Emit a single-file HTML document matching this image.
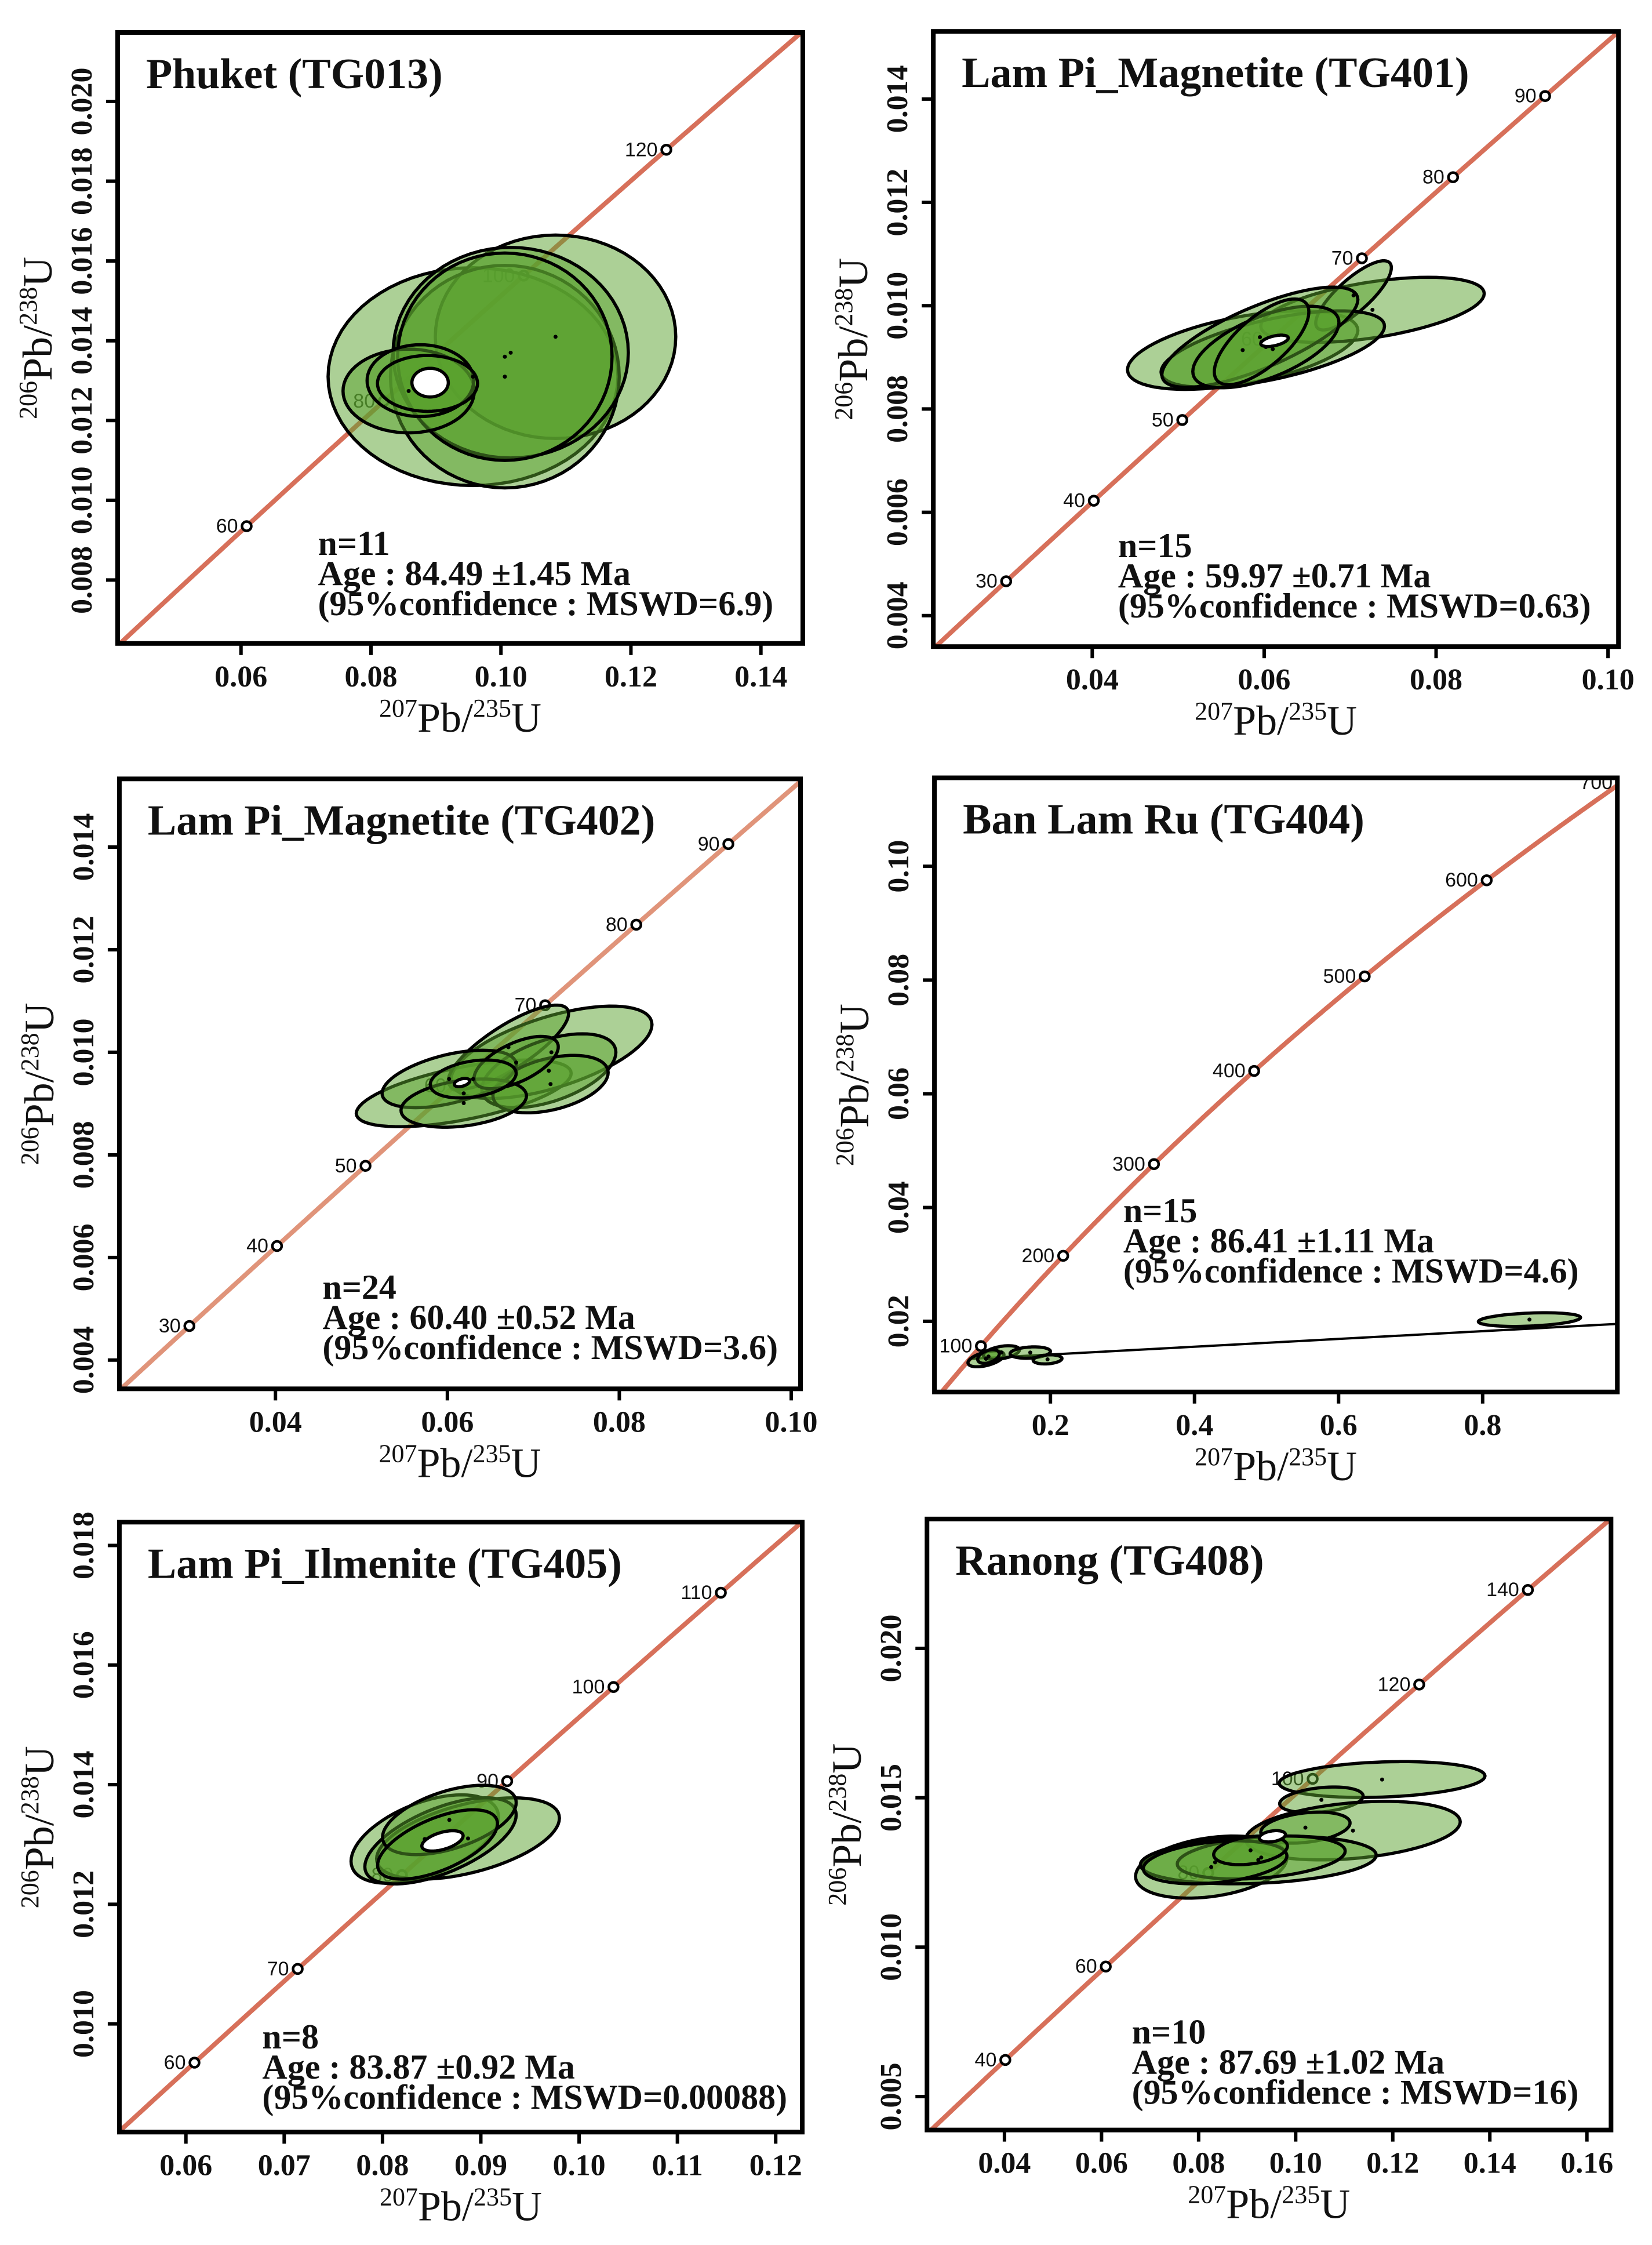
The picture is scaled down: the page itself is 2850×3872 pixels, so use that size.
<!DOCTYPE html>
<html><head><meta charset="utf-8">
<style>
html,body{margin:0;padding:0;background:#fff;overflow:hidden;width:2850px;height:3872px;}
svg{display:block;}
.tick{font-family:"Liberation Serif",serif;font-weight:bold;font-size:52px;fill:#111;}
.atitle{font-family:"Liberation Serif",serif;font-size:72px;fill:#111;}
.ptitle{font-family:"Liberation Serif",serif;font-weight:bold;font-size:74px;fill:#111;}
.stats{font-family:"Liberation Serif",serif;font-weight:bold;font-size:60px;fill:#111;}
.agelab{font-family:"Liberation Sans",sans-serif;font-size:34px;fill:#111;}
</style></head>
<body>
<svg id="fig" width="2850" height="3872" viewBox="0 0 2850 3872" xmlns="http://www.w3.org/2000/svg">
<rect width="2850" height="3872" fill="#fff"/>
</svg>
<script>
// ---------- Panel 1: Phuket (TG013) ----------
const p1EllX = [0.0957,0.1084,0.1006,0.1015,0.1006,0.0858,0.0876,0.0887];
const p1EllY = [0.0131,0.0141,0.0131,0.0137,0.0136,0.01274,0.0130,0.01293];
const p1EllAx = [0.0223,0.0185,0.0176,0.0181,0.0165,0.0101,0.0082,0.0077];
const p1EllBy = [0.00273,0.00255,0.00279,0.00264,0.0026,0.00105,0.0009,0.0007];
const p1EllRho = [0,0,0,0,0,0,0,0];
const p1Mean = [0.0891,0.01295,0.0028,0.00036,0];
const p1Ages = [60,80,100,120];
const p1XTicks = [0.06,0.08,0.10,0.12,0.14];
const p1YTicks = [0.008,0.010,0.012,0.014,0.016,0.018,0.020];
const p1Stats = ["n=11","Age : 84.49 ±1.45 Ma","(95%confidence : MSWD=6.9)"];

// ---------- Panel 2: Lam Pi_Magnetite (TG401) ----------
const p2EllX = [0.0575,0.0726,0.0704,0.0610,0.0595,0.0602,0.0597];
const p2EllY = [0.00914,0.00992,0.0102,0.00916,0.00939,0.0092,0.00930];
const p2EllAx = [0.0134,0.0130,0.0044,0.0130,0.0114,0.0085,0.0055];
const p2EllBy = [0.00076,0.00063,0.00067,0.00074,0.00097,0.00079,0.00083];
const p2EllRho = [0.5,0.5,0.8,0.6,0.75,0.6,0.7];
const p2Mean = [0.0612,0.00932,0.0016,0.00011,0.5];
const p2Ages = [30,40,50,60,70,80,90];
const p2XTicks = [0.04,0.06,0.08,0.10];
const p2YTicks = [0.004,0.006,0.008,0.010,0.012,0.014];
const p2Stats = ["n=15","Age : 59.97 ±0.71 Ma","(95%confidence : MSWD=0.63)"];

// ---------- Panel 3: Lam Pi_Magnetite (TG402) ----------
const p3EllX = [0.0619,0.0721,0.0671,0.0718,0.0720,0.0602,0.0619,0.0680,0.0630];
const p3EllY = [0.0092,0.0100,0.0101,0.00964,0.00938,0.00948,0.00901,0.0098,0.00948];
const p3EllAx = [0.0125,0.0117,0.0070,0.0078,0.0067,0.0078,0.0073,0.0049,0.0050];
const p3EllBy = [0.00065,0.0009,0.00082,0.00072,0.00056,0.00056,0.00047,0.00051,0.00037];
const p3EllRho = [0.6,0.6,0.8,0.5,0.4,0.5,0.3,0.6,0.3];
const p3Mean = [0.0617,0.00941,0.0009,0.00008,0.4];
const p3Ages = [30,40,50,60,70,80,90];
const p3XTicks = [0.04,0.06,0.08,0.10];
const p3YTicks = [0.004,0.006,0.008,0.010,0.012,0.014];
const p3Stats = ["n=24","Age : 60.40 ±0.52 Ma","(95%confidence : MSWD=3.6)"];

// ---------- Panel 4: Ban Lam Ru (TG404) ----------
const p4EllX = [0.865,0.1105,0.132,0.172,0.196,0.114];
const p4EllY = [0.0203,0.0134,0.0145,0.0145,0.0133,0.0138];
const p4EllAx = [0.0709,0.025,0.025,0.028,0.020,0.015];
const p4EllBy = [0.0012,0.0014,0.0012,0.0010,0.0008,0.0012];
const p4EllRho = [0.3,0.5,0.4,0.2,0.2,0.4];
const p4Ages = [100,200,300,400,500,600,700];
const p4XTicks = [0.2,0.4,0.6,0.8];
const p4YTicks = [0.02,0.04,0.06,0.08,0.10];
const p4Discordia = [0.01279,0.00684];
const p4Stats = ["n=15","Age : 86.41 ±1.11 Ma","(95%confidence : MSWD=4.6)"];

// ---------- Panel 5: Lam Pi_Ilmenite (TG405) ----------
const p5EllX = [0.0843,0.0887,0.0859,0.0868,0.0856];
const p5EllY = [0.01309,0.0131,0.01306,0.01341,0.0130];
const p5EllAx = [0.0075,0.0093,0.0077,0.0068,0.0061];
const p5EllBy = [0.00074,0.00068,0.00072,0.00058,0.00058];
const p5EllRho = [0.5,0.5,0.6,0.5,0.6];
const p5Mean = [0.0861,0.01306,0.0021,0.00017,0.5];
const p5Ages = [60,70,80,90,100,110];
const p5XTicks = [0.06,0.07,0.08,0.09,0.10,0.11,0.12];
const p5YTicks = [0.010,0.012,0.014,0.016,0.018];
const p5Stats = ["n=8","Age : 83.87 ±0.92 Ma","(95%confidence : MSWD=0.00088)"];

// ---------- Panel 6: Ranong (TG408) ----------
const p6EllX = [0.1178,0.1053,0.1118,0.1020,0.0826,0.0923,0.0929,0.0834,0.0907];
const p6EllY = [0.01561,0.01493,0.0139,0.0140,0.01268,0.01292,0.0130,0.01284,0.01324];
const p6EllAx = [0.0212,0.0086,0.0221,0.0092,0.0156,0.0243,0.0173,0.0148,0.0076];
const p6EllBy = [0.0006,0.00043,0.00098,0.00052,0.00104,0.0008,0.00072,0.00072,0.00048];
const p6EllRho = [0.2,0.3,0.3,0.3,0.3,0.2,0.3,0.3,0.3];
const p6Mean = [0.0952,0.01371,0.0027,0.00019,0.3];
const p6Ages = [40,60,80,100,120,140];
const p6XTicks = [0.04,0.06,0.08,0.10,0.12,0.14,0.16];
const p6YTicks = [0.005,0.010,0.015,0.020];
const p6Stats = ["n=10","Age : 87.69 ±1.02 Ma","(95%confidence : MSWD=16)"];

const NS = "http://www.w3.org/2000/svg";
const svg = document.getElementById('fig');
const L235 = 9.8485e-10*1e6, L238 = 1.55125e-10*1e6;
function cx207(t){return Math.exp(L235*t)-1;}
function cy206(t){return Math.exp(L238*t)-1;}
function mk(tag, attrs, parent){
  const e = document.createElementNS(NS, tag);
  for (const k in attrs) e.setAttribute(k, attrs[k]);
  (parent||svg).appendChild(e);
  return e;
}

const panels = [
 {id:1,title:"Phuket (TG013)",o:[0,0],box:[205,62,1399,1229],xd:[0.04102,0.14645],yd:[0.00641,0.02173],
  ex:p1EllX,ey:p1EllY,ea:p1EllAx,eb:p1EllBy,er:p1EllRho,mean:p1Mean,ages:p1Ages,xt:p1XTicks,yt:p1YTicks,xf:2,yf:3,
  stats:p1Stats,sx:554,sy:1060,cc:"#d7705a"},
 {id:2,title:"Lam Pi_Magnetite (TG401)",o:[1425,0],box:[1612,60,2806,1235],xd:[0.02151,0.10122],yd:[0.0034,0.01531],
  ex:p2EllX,ey:p2EllY,ea:p2EllAx,eb:p2EllBy,er:p2EllRho,mean:p2Mean,ages:p2Ages,xt:p2XTicks,yt:p2YTicks,xf:2,yf:3,
  stats:p2Stats,sx:1934,sy:1064,cc:"#d7705a"},
 {id:3,title:"Lam Pi_Magnetite (TG402)",o:[0,1300],box:[208,1348,1395,2513],xd:[0.02184,0.10108],yd:[0.00344,0.01533],
  ex:p3EllX,ey:p3EllY,ea:p3EllAx,eb:p3EllBy,er:p3EllRho,mean:p3Mean,ages:p3Ages,xt:p3XTicks,yt:p3YTicks,xf:2,yf:3,
  stats:p3Stats,sx:562,sy:2341,cc:"#e0947a"},
 {id:4,title:"Ban Lam Ru (TG404)",o:[1425,1300],box:[1614,1346,2804,2519],xd:[0.039,0.987],yd:[0.00757,0.11556],
  ex:p4EllX,ey:p4EllY,ea:p4EllAx,eb:p4EllBy,er:p4EllRho,mean:null,ages:p4Ages,xt:p4XTicks,yt:p4YTicks,xf:1,yf:2,
  stats:p4Stats,sx:1943,sy:2195,cc:"#d7705a",disc:p4Discordia},
 {id:5,title:"Lam Pi_Ilmenite (TG405)",o:[0,2572],box:[208,2631,1398,3796],xd:[0.05323,0.1227],yd:[0.00819,0.01839],
  ex:p5EllX,ey:p5EllY,ea:p5EllAx,eb:p5EllBy,er:p5EllRho,mean:p5Mean,ages:p5Ages,xt:p5XTicks,yt:p5YTicks,xf:2,yf:3,
  stats:p5Stats,sx:457,sy:3636,cc:"#d7705a"},
 {id:6,title:"Ranong (TG408)",o:[1425,2572],box:[1601,2625,2793,3792],xd:[0.02404,0.16497],yd:[0.00388,0.02433],
  ex:p6EllX,ey:p6EllY,ea:p6EllAx,eb:p6EllBy,er:p6EllRho,mean:p6Mean,ages:p6Ages,xt:p6XTicks,yt:p6YTicks,xf:2,yf:3,
  stats:p6Stats,sx:1958,sy:3627,cc:"#d7705a"}
];

const KX = 0.99, KY = 0.903;

function ellPath(X,Y,cx,cy,ax,by,rho){
  const s = Math.sqrt(1-rho*rho);
  let d = "";
  for (let i=0;i<=72;i++){
    const t = i/72*2*Math.PI;
    const x = cx + ax*Math.cos(t);
    const y = cy + by*(rho*Math.cos(t) + s*Math.sin(t));
    d += (i?"L":"M") + X(x).toFixed(1) + "," + Y(y).toFixed(1);
  }
  return d + "Z";
}

panels.forEach(p=>{
  const tx_ = v => p.o[0] + (v-p.o[0])*KX;
  const ty_ = v => p.o[1] + (v-p.o[1])*KY;
  const x0 = tx_(p.box[0]), y0 = ty_(p.box[1]), x1 = tx_(p.box[2]), y1 = ty_(p.box[3]);
  const sx = tx_(p.sx), sy = ty_(p.sy);
  const X = v => x0 + (v-p.xd[0])/(p.xd[1]-p.xd[0])*(x1-x0);
  const Y = v => y1 - (v-p.yd[0])/(p.yd[1]-p.yd[0])*(y1-y0);
  const g = mk('g',{});
  
  
  const cp = mk('clipPath',{id:'clip'+p.id},g);
  mk('rect',{x:x0,y:y0,width:x1-x0,height:y1-y0},cp);
  const plot = mk('g',{'clip-path':'url(#clip'+p.id+')'},g);

  let d="";
  for (let t=0;t<=1200;t+=2){
    d += (t?"L":"M")+X(cx207(t)).toFixed(1)+","+Y(cy206(t)).toFixed(1);
  }
  const cc = mk('path',{d:d,fill:'none',stroke:p.cc,'stroke-width':8},plot);
  
  

  p.ages.forEach(a=>{
    const mx = X(cx207(a)), my = Y(cy206(a));
    const c = mk('circle',{cx:mx,cy:my,r:8,fill:'#fff',stroke:'#000','stroke-width':4.5},plot);
    
    
    const tx = mk('text',{x:mx-15,y:my+11,'text-anchor':'end',class:'agelab'},plot);
    tx.textContent = a;
    
    
  });

  if (p.disc){
    const ln = mk('line',{x1:X(0.09),y1:Y(p.disc[0]+p.disc[1]*0.09),x2:X(p.xd[1]),y2:Y(p.disc[0]+p.disc[1]*p.xd[1]),stroke:'#000','stroke-width':4},plot);
    
    
  }

  p.ex.forEach((v,i)=>{
    const e = mk('path',{d:ellPath(X,Y,v,p.ey[i],p.ea[i],p.eb[i],p.er[i]),fill:'#5aa22e','fill-opacity':0.5,stroke:'#000','stroke-width':5.5},plot);
    
    
  });
  p.ex.forEach((v,i)=>{
    const dot = mk('circle',{cx:X(v),cy:Y(p.ey[i]),r:3.5,fill:'#000'},plot);
    
    
  });
  if (p.mean){
    const m = p.mean;
    const me = mk('path',{d:ellPath(X,Y,m[0],m[1],m[2],m[3],m[4]),fill:'#fff',stroke:'#000','stroke-width':5.5},plot);
    
    
  }

  const fr = mk('rect',{x:x0,y:y0,width:x1-x0,height:y1-y0,fill:'none',stroke:'#000','stroke-width':8},g);
  
  

  p.xt.forEach(v=>{
    const px = X(v);
    const tk = mk('line',{x1:px,y1:y1,x2:px,y2:y1+20,stroke:'#000','stroke-width':6},g);
    
    
    const tl = mk('text',{x:px,y:y1+74,'text-anchor':'middle',class:'tick'},g);
    tl.textContent = v.toFixed(p.xf);
    
    
  });
  p.yt.forEach(v=>{
    const py = Y(v);
    const tk = mk('line',{x1:x0-20,y1:py,x2:x0,y2:py,stroke:'#000','stroke-width':6},g);
    
    
    const lx = x0-45;
    const tl = mk('text',{x:lx,y:py,'text-anchor':'middle',transform:'rotate(-90 '+lx+' '+py+')',class:'tick'},g);
    tl.textContent = v.toFixed(p.yf);
    
    
  });

  const xtT = mk('text',{x:(x0+x1)/2,y:y1+152,'text-anchor':'middle',class:'atitle'},g);
  xtT.innerHTML = '<tspan font-size="44" dy="-26">207</tspan><tspan dy="26">Pb/</tspan><tspan font-size="44" dy="-26">235</tspan><tspan dy="26">U</tspan>';
  
  
  const ytx = x0-114, yty=(y0+y1)/2;
  const ytT = mk('text',{x:ytx,y:yty,'text-anchor':'middle',transform:'rotate(-90 '+ytx+' '+yty+')',class:'atitle'},g);
  ytT.innerHTML = '<tspan font-size="44" dy="-26">206</tspan><tspan dy="26">Pb/</tspan><tspan font-size="44" dy="-26">238</tspan><tspan dy="26">U</tspan>';
  
  

  const tt = mk('text',{x:x0+49,y:y0+96,class:'ptitle'},g);
  tt.textContent = p.title;
  
  

  p.stats.forEach((s,i)=>{
    const st = mk('text',{x:sx,y:sy+i*52,class:'stats'},g);
    st.textContent = s;
    
    
  });
});
</script>
</body></html>
